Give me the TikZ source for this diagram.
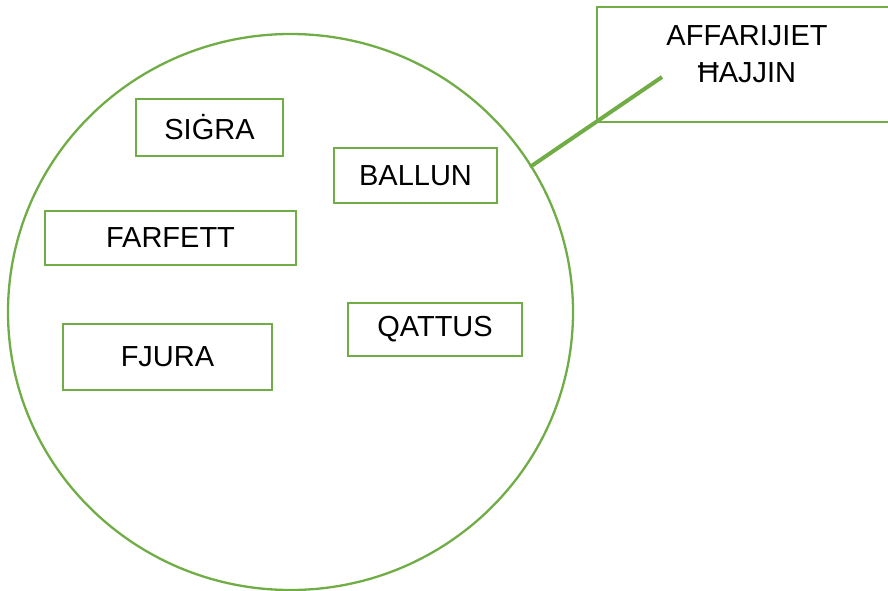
\documentclass[tikz,border=0pt]{standalone}
\usepackage{fontspec}
\setmainfont{Liberation Sans}
\usetikzlibrary{positioning}
\definecolor{leafgreen}{HTML}{70AD47}
\tikzset{
  word/.style={
    shape = rectangle,
    draw = leafgreen,
    line width = 2.5pt,
    inner sep = 0pt,
    font = \fontsize{29}{37}\selectfont
  },
}
\tikzset{
  calloutbox/.style={
    shape = rectangle,
    draw = leafgreen,
    line width = 2.5pt,
    minimum width = 300pt,
    minimum height = 115pt
  },
  callouttext/.style={
    anchor = north,
    align = center,
    inner sep = 0pt,
    font = \fontsize{29}{37}\selectfont
  },
  leader/.style={
    draw = leafgreen,
    line width = 4pt
  }
}
\begin{document}
\begin{tikzpicture}[x=1pt, y=-1pt]
       \useasboundingbox (0,0) rectangle (888,591);
       \clip (0,0) rectangle (888,591);

       % the big circle
       \draw[leafgreen, line width=2.3pt] (290.5,312) ellipse [x radius=282.5, y radius=278];

       % the words inside
       \node[word, minimum width=147pt, minimum height=57pt] (sigra) at (209.5,127.5) {SIĠRA};
       \node[word, minimum width=163pt, minimum height=55pt] (ballun) at (415.5,175.5) {BALLUN};
       \node[word, minimum width=251pt, minimum height=54pt] (farfett) at (170.5,238) {FARFETT};
       \node[word, minimum width=174pt, minimum height=53pt] (qattus) at (435,329.5) {QATTUS};
       \node[word, minimum width=209pt, minimum height=66pt] (fjura) at (167.5,357) {FJURA};

       % callout
       \node[calloutbox] (label) at (747,64.5) {};
       \node[callouttext] (labeltext) at (747,25) {AFFARIJIET\\ĦAJJIN};
       \coordinate (pointer) at (662,77);
       \coordinate (tip) at (530,167);
       \draw[leader] (pointer) -- (tip);

\end{tikzpicture}
\end{document}
